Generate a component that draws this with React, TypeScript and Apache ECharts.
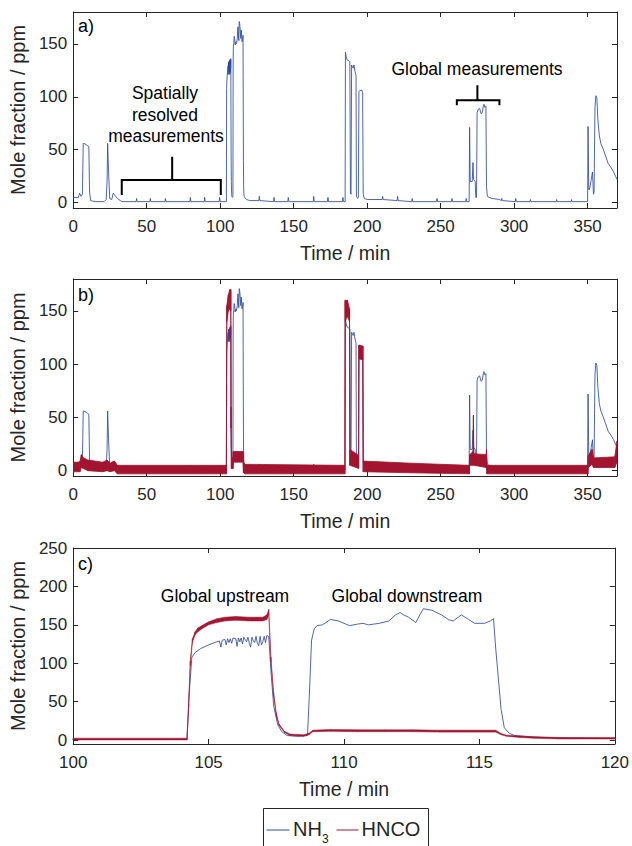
import React, { useEffect, useRef } from 'react';
import * as echarts from 'echarts';

// ---------- data (time / min, mole fraction / ppm) ----------
const nh3Points: [number, number][] = [
  [0, 5], [3.5, 5], [4.3, 9], [5.3, 6], [6.2, 8], [6.8, 56], [8, 55.5], [9.5, 54], [10.6, 53], [11.1, 10], [11.8, 2],
  [15, 1], [21, 1], [22.4, 3], [23.0, 20], [23.4, 56], [24.0, 30], [24.8, 4], [26.2, 3], [27.2, 9], [28.3, 7], [30, 4], [33, 1],
  [42.8, 1], [43.1, 4], [43.5, 1], [52.1, 1], [52.4, 4], [52.8, 1], [62.4, 1], [62.7, 4], [63.1, 1],
  [79.4, 1], [79.7, 5], [80.1, 1], [89.1, 1], [89.4, 5], [89.8, 1], [99.3, 1], [99.6, 5], [100, 1],
  [104.2, 1], [104.28, 60], [104.38, 108], [104.5, 114], [104.7, 119], [105.0, 124], [105.3, 128], [105.4, 129],
  [105.45, 121], [105.5, 130], [105.6, 131], [105.65, 124], [105.7, 132], [105.75, 127], [105.8, 132], [105.85, 126], [105.9, 133],
  [106.0, 132], [106.05, 122], [106.1, 133], [106.15, 128], [106.2, 133], [106.25, 125], [106.3, 134], [106.4, 128], [106.45, 134],
  [106.5, 126], [106.55, 121], [106.6, 134], [106.65, 129], [106.7, 127], [106.75, 135], [106.8, 126], [106.85, 123], [106.9, 135],
  [106.95, 124], [107.0, 128], [107.05, 135], [107.1, 127],
  [107.15, 136], [107.22, 135], [107.3, 90], [107.4, 45], [107.55, 20], [107.7, 11], [107.9, 6], [108.3, 5], [108.65, 6],
  [108.72, 60], [108.8, 130], [108.9, 145], [109.0, 149], [109.2, 150], [109.5, 157], [109.8, 155], [110.0, 152],
  [110.2, 149], [110.5, 151], [110.7, 152], [110.9, 150], [111.3, 152], [111.65, 155], [111.9, 163], [112.07, 166],
  [112.2, 163], [112.38, 160], [112.65, 153], [112.8, 163], [112.93, 171], [113.24, 169], [113.6, 163], [113.85, 157],
  [114.03, 155], [114.33, 163], [114.6, 157], [114.82, 152], [115.19, 152], [115.4, 155], [115.52, 158], [115.6, 120],
  [115.7, 80], [115.8, 40], [115.92, 16], [116.1, 9], [116.3, 6], [117, 4], [118, 3], [119, 2.5], [120, 2],
  [125, 2], [126.3, 2], [126.6, 6], [127, 2], [136.3, 1], [136.6, 5], [137, 1], [146, 1], [146.3, 5], [146.7, 1],
  [163.3, 1], [163.6, 6], [164, 1], [173, 1], [173.3, 5], [173.7, 1], [183.2, 1], [183.5, 5], [183.9, 1], [185, 1],
  [185.2, 142], [185.7, 138], [186.3, 135], [187.5, 134], [188.2, 133], [188.6, 10], [189.0, 8], [189.4, 130], [190, 128],
  [190.5, 127], [191, 130], [191.7, 124], [192.4, 120], [192.7, 6], [193.5, 4], [194.0, 5], [194.4, 105], [195, 106],
  [196.5, 106], [196.9, 104], [197.3, 8], [198, 4], [200, 3], [210.2, 3], [210.5, 6], [210.9, 3], [220.4, 2], [220.7, 6],
  [221.1, 2], [230.3, 1], [230.6, 4], [231, 1], [247.2, 1], [247.5, 4], [247.9, 1], [257.4, 1], [257.7, 4], [258.1, 1],
  [267.1, 1], [267.4, 4], [267.8, 1], [269.4, 1], [269.7, 71], [270.1, 20], [271.5, 20], [272.0, 38], [272.4, 22],
  [273.5, 20], [273.9, 5], [274.4, 5], [274.8, 85], [275.5, 88], [276.5, 89], [277.5, 84], [278.3, 85], [279, 91],
  [279.5, 93], [280, 90], [280.8, 91], [281.2, 15], [281.8, 6], [283, 5], [285, 4], [290, 3], [291.3, 2], [291.6, 4],
  [292, 2], [300.8, 1], [301.1, 4], [301.5, 1], [310.8, 1], [311.1, 3], [311.5, 1], [328.6, 1], [328.9, 3], [329.3, 1],
  [338.8, 1], [339.1, 3], [339.5, 1], [350, 1], [350.3, 72], [350.8, 12], [351.5, 14], [352.5, 22], [353.3, 29],
  [354.0, 8], [354.4, 10], [355, 90], [355.6, 101], [356.3, 99], [357, 78], [358, 63], [359, 56], [360.5, 51],
  [362, 45], [364, 37], [366, 33], [367.7, 29], [369, 25], [370, 22],
];

// HNCO noise band for panel b: [time, lower edge, upper edge]
const hncoBand: [number, number, number][] = [
  [0, -1, 8], [4.5, -1, 8], [5.5, 3, 15], [7, 2, 12], [10, 0, 10], [20, -1, 8], [23, 0, 10], [25, -1, 7], [28, 0, 9],
  [30, -3, 5], [104.2, -3, 5], [104.3, 60, 80], [104.5, 140, 155], [105.5, 150, 165], [106.5, 152, 170], [107.2, 150, 170],
  [107.35, 40, 60], [107.6, 2, 12], [108.7, 2, 12], [108.85, 8, 18], [115.5, 8, 18], [115.8, -2, 8], [117, -3, 6],
  [184.8, -3, 5], [185.0, 140, 160], [186.5, 145, 160], [188.0, 140, 152], [188.2, 5, 20], [192.5, 3, 16], [194.2, 2, 14],
  [194.35, 105, 118], [197.1, 104, 117], [197.3, -1, 9], [230, -2, 7], [269.5, -3, 5], [269.7, 5, 15], [272.0, 5, 18],
  [272.3, 20, 52], [272.6, 5, 16], [280.9, 3, 15], [281.2, 5, 20], [281.5, -3, 5], [350.2, -3, 5], [350.4, 3, 14],
  [353, 6, 20], [354, 3, 12], [368.5, 3, 13], [370, 8, 28],
];

// HNCO noise band for panel c (100–120 min): [time, lower edge, upper edge]
const hncoZoomBand: [number, number, number][] = [
  [100, 0.3, 2.6], [104.2, 0.3, 2.6], [104.26, 42, 47], [104.32, 97, 103], [104.4, 127, 132], [104.5, 137, 141],
  [104.6, 141, 146], [104.8, 146, 150], [105.0, 150, 154], [105.3, 153, 158], [105.6, 155, 160], [106.0, 156, 161],
  [106.5, 155, 160], [107.0, 155, 160], [107.15, 157, 163], [107.22, 163, 170], [107.3, 102, 108], [107.4, 57, 62],
  [107.5, 31, 35], [107.6, 19, 21], [107.8, 10, 11.5], [108.0, 6, 8], [108.5, 5, 7], [108.7, 7, 9], [108.85, 11, 13],
  [109.5, 11.5, 14], [110.5, 11, 13.5], [111.5, 11, 13.5], [112.5, 11, 13.5], [113.5, 10.5, 13], [114.5, 10.5, 13],
  [115.6, 10.5, 13], [115.8, 7, 8.5], [116.0, 5, 6.5], [116.5, 3.5, 5.5], [117, 2.5, 4.5], [118, 1.5, 3.5], [120, 1.5, 3.5],
];

// tick values
const xTicksFull = [0, 50, 100, 150, 200, 250, 300, 350];
const yTicksFull = [0, 50, 100, 150];
const xTicksZoom = [100, 105, 110, 115, 120];
const yTicksZoom = [0, 50, 100, 150, 200, 250];

// annotation braces (axis coordinates of panel a)
const braceSpatial: [number, number][] = [[33, 7.3], [33, 21.4], [67.3, 21.4], [67.3, 43.3], [67.3, 21.4], [100.4, 21.4], [100.4, 7.3]];
const braceGlobal: [number, number][] = [[261, 92], [261, 96.7], [275, 96.7], [275, 110.8], [275, 96.7], [290, 96.7], [290, 92]];

// ---------- styling ----------
const FONT = '"Liberation Sans", Arial, Helvetica, sans-serif';
const INK = '#262626';
const BLUE = '#2f4c9c';
const RED = '#a2142f';

const panels = [
  { grid: { left: 72, top: 12, width: 545, height: 196 }, xMin: 0, xMax: 370, yMin: -5, yMax: 180, xTicks: xTicksFull, yTicks: yTicksFull },
  { grid: { left: 72, top: 279, width: 545, height: 197 }, xMin: 0, xMax: 370, yMin: -5, yMax: 180, xTicks: xTicksFull, yTicks: yTicksFull },
  { grid: { left: 72, top: 548, width: 545, height: 196 }, xMin: 100, xMax: 120, yMin: -5, yMax: 250, xTicks: xTicksZoom, yTicks: yTicksZoom },
];

function bandSeries(band: [number, number, number][], axisIndex: number, strokeWidth: number) {
  return {
    type: 'custom',
    name: 'HNCO',
    xAxisIndex: axisIndex,
    yAxisIndex: axisIndex,
    clip: true,
    silent: true,
    z: 3,
    itemStyle: { color: RED },
    data: band,
    encode: { x: 0, y: [1, 2] },
    renderItem: (params: any, api: any) => {
      const i = params.dataIndex;
      if (i >= band.length - 1) return { type: 'group', children: [] };
      const a = band[i];
      const b = band[i + 1];
      const pts = [api.coord([a[0], a[1]]), api.coord([b[0], b[1]]), api.coord([b[0], b[2]]), api.coord([a[0], a[2]])];
      return {
        type: 'polygon',
        shape: { points: pts },
        style: { fill: RED, stroke: RED, lineWidth: strokeWidth },
      };
    },
  };
}

function buildOption() {
  const xAxis: any[] = [];
  const yAxis: any[] = [];
  panels.forEach((p, i) => {
    const line = { onZero: false, lineStyle: { color: INK, width: 1 } };
    xAxis.push({
      type: 'value', gridIndex: i, min: p.xMin, max: p.xMax, position: 'bottom',
      name: 'Time / min', nameLocation: 'middle', nameGap: 35,
      nameTextStyle: { fontFamily: FONT, fontSize: 19.5, color: INK },
      axisLine: line,
      axisTick: { inside: true, length: 5, customValues: p.xTicks, lineStyle: { color: INK } },
      axisLabel: { customValues: p.xTicks, margin: 10, color: INK, fontSize: 17, fontFamily: FONT },
      splitLine: { show: false },
    });
    xAxis.push({
      type: 'value', gridIndex: i, min: p.xMin, max: p.xMax, position: 'top',
      axisLine: line,
      axisTick: { inside: true, length: 5, customValues: p.xTicks, lineStyle: { color: INK } },
      axisLabel: { show: false },
      splitLine: { show: false },
    });
    yAxis.push({
      type: 'value', gridIndex: i, min: p.yMin, max: p.yMax, position: 'left',
      name: 'Mole fraction / ppm', nameLocation: 'middle', nameGap: 29,
      nameTextStyle: { fontFamily: FONT, fontSize: 20, color: INK },
      axisLine: line,
      axisTick: { inside: true, length: 5, customValues: p.yTicks, lineStyle: { color: INK } },
      axisLabel: { customValues: p.yTicks, margin: 6, color: INK, fontSize: 17, fontFamily: FONT },
      splitLine: { show: false },
    });
    yAxis.push({
      type: 'value', gridIndex: i, min: p.yMin, max: p.yMax, position: 'right',
      axisLine: line,
      axisTick: { inside: true, length: 5, customValues: p.yTicks, lineStyle: { color: INK } },
      axisLabel: { show: false },
      splitLine: { show: false },
    });
  });

  const series: any[] = [];
  panels.forEach((_, i) => {
    series.push({
      type: 'line', name: 'NH3', xAxisIndex: i * 2, yAxisIndex: i * 2,
      data: nh3Points, symbol: 'none', showSymbol: false, silent: true, z: 2,
      lineStyle: { color: BLUE, width: 0.85 }, itemStyle: { color: BLUE },
    });
  });
  series.push(bandSeries(hncoBand, 2, 0.8));
  series.push(bandSeries(hncoZoomBand, 4, 0.5));
  [braceSpatial, braceGlobal].forEach((br, k) => {
    series.push({
      type: 'line', name: 'brace' + k, xAxisIndex: 0, yAxisIndex: 0, data: br,
      symbol: 'none', silent: true, z: 4, lineStyle: { color: '#000', width: 2, join: 'miter' },
    });
  });

  const txt = (text: string, x: number, y: number, size: number, align = 'center', fill = '#000') => ({
    type: 'text', x, y, silent: true,
    style: { text, fill, font: `${size}px ${FONT}`, align, verticalAlign: 'middle' },
  });

  // legend box (bottom edge runs off the page, as in the original figure)
  const legendGraphic = [
    { type: 'rect', silent: true, shape: { x: 263.5, y: 808.5, width: 165, height: 60 }, style: { fill: '#fff', stroke: INK, lineWidth: 1 } },
    { type: 'line', silent: true, shape: { x1: 266.5, y1: 830, x2: 289.5, y2: 830 }, style: { stroke: BLUE, lineWidth: 1 } },
    txt('NH', 293, 828.5, 20, 'left', INK),
    txt('3', 322, 839.3, 12, 'left', INK),
    { type: 'line', silent: true, shape: { x1: 336.5, y1: 830, x2: 358.5, y2: 830 }, style: { stroke: RED, lineWidth: 1 } },
    txt('HNCO', 361.5, 828.5, 20, 'left', INK),
  ];

  return {
    animation: false,
    backgroundColor: '#fff',
    grid: panels.map((p) => ({ ...p.grid, containLabel: false })),
    xAxis,
    yAxis,
    series,
    graphic: [
      txt('a)', 78, 25.5, 18, 'left'),
      txt('b)', 78, 294.5, 18, 'left'),
      txt('c)', 78, 564, 18, 'left'),
      txt('Spatially', 165, 93, 17.5),
      txt('resolved', 165, 115, 17.5),
      txt('measurements', 166, 136, 17.5),
      txt('Global measurements', 477, 68.5, 17.5),
      txt('Global upstream', 225, 596, 17.5),
      txt('Global downstream', 407, 596, 17.5),
      ...legendGraphic,
    ],
  };
}

export default function App() {
  const ref = useRef<HTMLDivElement>(null);
  useEffect(() => {
    if (!ref.current) return;
    const chart = echarts.init(ref.current, undefined, { renderer: 'svg' });
    chart.setOption(buildOption() as any);
    return () => chart.dispose();
  }, []);
  return (
    <div
      ref={ref}
      style={{ position: 'fixed', left: 0, top: 0, width: 632, height: 846, background: '#fff' }}
    />
  );
}
